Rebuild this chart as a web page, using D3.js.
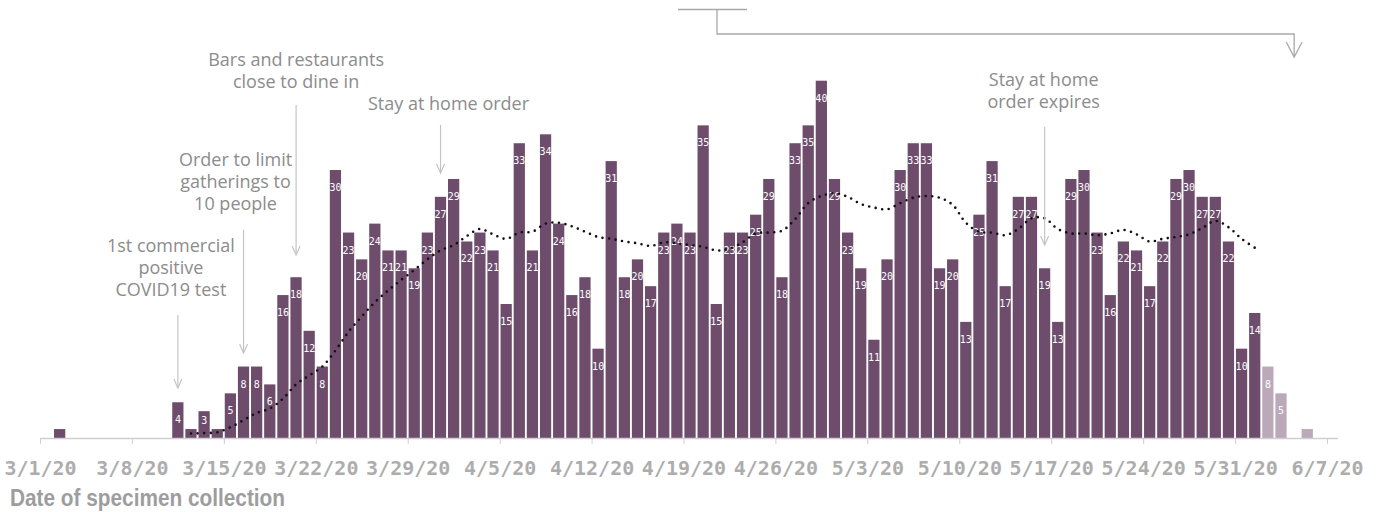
<html>
<head>
<meta charset="utf-8">
<script src="https://d3js.org/d3.v7.min.js"></script>
<style>
  body { margin: 0; background: #fff; }
  .note { font-family: "Open Sans", sans-serif; font-size: 18px; fill: #8c8c8c; }
  .tick text { font-family: "DejaVu Sans Mono", monospace; font-size: 20px; font-weight: bold; fill: #adadad; }
  .barlabel { font-family: "DejaVu Sans Mono", monospace; font-size: 10px; fill: #fff; }
</style>
</head>
<body>
<svg width="1385" height="512"></svg>
<script>
// daily positive specimens, by collection date (starting 3/1/20)
const marchCounts = [0, 1, 0, 0, 0, 0, 0, 0, 0, 0, 4, 1, 3, 1, 5, 8, 8, 6, 16, 18, 12, 8, 30, 23, 20, 24, 21, 21, 19, 23, 27];
const aprilCounts = [29, 22, 23, 21, 15, 33, 21, 34, 24, 16, 18, 10, 31, 18, 20, 17, 23, 24, 23, 35, 15, 23, 23, 25, 29, 18, 33, 35, 40, 29];
const mayCounts   = [23, 19, 11, 20, 30, 33, 33, 19, 20, 13, 25, 31, 17, 27, 27, 19, 13, 29, 30, 23, 16, 22, 21, 17, 22, 29, 30, 27, 27, 22, 10];
const juneCounts  = [14, 8, 5, 0, 1];
// days whose counts are still incomplete (lighter bars)
const pendingDays = ["2020-06-02", "2020-06-03", "2020-06-05"];

// rolling average (dotted line), 3/12/20 .. 6/1/20
const avgStart = "2020-03-12";
const avgMarch = [0.5, 0.55, 0.65, 1.2, 2.0, 2.8, 3.3, 4.4, 6.0, 7.0, 8.0, 9.8, 11.9, 13.6, 15.2, 16.5, 17.7, 18.8, 20.0, 21.0];
const avgApril = [21.6, 22.6, 23.4, 22.8, 22.3, 23.0, 23.1, 24.0, 24.1, 23.7, 23.1, 22.5, 22.3, 22.0, 21.8, 21.5, 21.9, 21.8, 21.6, 21.4,
                  21.0, 21.2, 21.9, 22.9, 23.0, 23.2, 24.5, 26.3, 27.1, 27.4];
const avgMay   = [27.0, 26.2, 25.8, 25.6, 26.3, 26.9, 27.1, 26.9, 26.1, 24.1, 23.1, 23.0, 22.7, 23.4, 24.6, 24.6, 23.4, 22.9, 22.9, 22.7,
                  22.9, 23.3, 22.8, 22.0, 22.3, 22.5, 22.8, 23.5, 24.3, 23.6, 22.3];
const avgJune  = [21.3];

const tickLabels = ["3/1/20", "3/8/20", "3/15/20", "3/22/20", "3/29/20", "4/5/20", "4/12/20", "4/19/20",
                    "4/26/20", "5/3/20", "5/10/20", "5/17/20", "5/24/20", "5/31/20", "6/7/20"];

const notes = [
  { date: "2020-03-11", lines: ["1st commercial", "positive", "COVID19 test"] },
  { date: "2020-03-16", lines: ["Order to limit", "gatherings to", "10 people"] },
  { date: "2020-03-20", lines: ["Bars and restaurants", "close to dine in"] },
  { date: "2020-03-31", lines: ["Stay at home order"] },
  { date: "2020-05-16", lines: ["Stay at home", "order expires"] }
];
// placement of each note: text offset, first line y, arrow top/bottom
const notePlacement = [
  { dx: -7, y: 246, a0: 315, a1: 388 },
  { dx: -8, y: 160, a0: 230, a1: 353 },
  { dx: 0,  y: 60,  a0: 105, a1: 255 },
  { dx: 8,  y: 104, a0: 125, a1: 173 },
  { dx: -1, y: 80,  a0: 127, a1: 245 }
];

const parse = d3.timeParse("%Y-%m-%d");
const start = parse("2020-03-01");
const counts = marchCounts.concat(aprilCounts, mayCounts, juneCounts);
const bars = counts.map((v, i) => ({ date: d3.timeDay.offset(start, i), value: v }));
const pendingSet = new Set(pendingDays);
const fmtKey = d3.timeFormat("%Y-%m-%d");

const avgValues = avgMarch.concat(avgApril, avgMay, avgJune);
const avg = avgValues.map((v, i) => ({ date: d3.timeDay.offset(parse(avgStart), i), value: v }));

const svg = d3.select("svg");

const x = d3.scaleTime()
  .domain([parse("2020-03-01"), parse("2020-06-07")])
  .range([40, 1327]);
const day = x(d3.timeDay.offset(start, 1)) - x(start);
const y = d3.scaleLinear().domain([0, 40]).range([438, 80.7]);

// bars
svg.append("g")
  .selectAll("rect")
  .data(bars.filter(d => d.value > 0))
  .enter()
  .append("rect")
    .attr("x", d => x(d.date) + 0.9)
    .attr("y", d => y(d.value))
    .attr("width", day - 1.9)
    .attr("height", d => y(0) - y(d.value))
    .style("fill", d => pendingSet.has(fmtKey(d.date)) ? "#bba9ba" : "#6e4c6c");

// labels in bars
svg.append("g")
  .selectAll("text")
  .data(bars.filter(d => d.value > 1))
  .enter()
  .append("text")
    .attr("class", "barlabel")
    .attr("x", d => x(d.date) + day / 2)
    .attr("y", d => Math.min(y(d.value) + 17.5, y(0) - 18))
    .attr("dy", "0.35em")
    .attr("text-anchor", "middle")
    .text(d => d.value);

// x axis
const tickDates = tickLabels.map(d3.timeParse("%-m/%-d/%y"));
const axis = svg.append("g")
  .attr("transform", "translate(0," + y(0) + ")")
  .call(d3.axisBottom(x).tickValues(tickDates).tickFormat((d, i) => tickLabels[i]).tickSize(6).tickSizeOuter(0));
axis.select(".domain").remove();
axis.selectAll(".tick line").attr("stroke", "#cfcfcf");
axis.selectAll(".tick text").attr("dy", 0).attr("y", 37);
axis.append("line")
  .attr("x1", x.range()[0]).attr("x2", x.range()[1] + 11)
  .attr("y1", 0.5).attr("y2", 0.5)
  .attr("stroke", "#cfcfcf").attr("stroke-width", 1.5);

// axis title, squeezed like the condensed face of the original
svg.append("text")
  .attr("x", 10).attr("y", 506)
  .attr("textLength", 275)
  .attr("lengthAdjust", "spacingAndGlyphs")
  .style("font-family", "'Liberation Sans', sans-serif")
  .style("font-weight", "bold")
  .style("font-size", "23px")
  .style("fill", "#9d9d9d")
  .text("Date of specimen collection");

// rolling average
const line = d3.line()
  .x(d => x(d.date) + day / 2)
  .y(d => y(d.value))
  .curve(d3.curveCatmullRom);
svg.append("path")
  .datum(avg)
  .attr("d", line)
  .attr("fill", "none")
  .attr("stroke", "#111")
  .attr("stroke-width", 2.6)
  .attr("stroke-linecap", "round")
  .attr("stroke-dasharray", "0 6.6");

// annotations
const noteG = svg.append("g");
notes.forEach((n, i) => {
  const p = notePlacement[i];
  const ax = x(parse(n.date)) + day / 2;
  const t = noteG.append("text").attr("class", "note").attr("text-anchor", "middle");
  n.lines.forEach((l, j) => {
    t.append("tspan").attr("x", ax + p.dx).attr("y", p.y + j * 22).attr("dy", "0.35em").text(l);
  });
  noteG.append("line")
    .attr("x1", ax).attr("x2", ax).attr("y1", p.a0).attr("y2", p.a1)
    .attr("stroke", "#c4c4c4").attr("stroke-width", 1.2);
  noteG.append("path")
    .attr("d", d3.line()([[ax - 4, p.a1 - 9], [ax, p.a1], [ax + 4, p.a1 - 9]]))
    .attr("fill", "none").attr("stroke", "#c4c4c4").attr("stroke-width", 1.2);
});

// bracket from the title down to the latest days
const bracket = svg.append("g").attr("fill", "none").attr("stroke", "#a9a9a9").attr("stroke-width", 1.3);
const bx = x(parse("2020-06-04")) + day / 2;
bracket.append("path").attr("d", d3.line()([[678, 9.5], [747, 9.5]]));
bracket.append("path").attr("d", d3.line()([[717, 9.5], [717, 34], [bx, 34], [bx, 56]]));
bracket.append("path").attr("d", d3.line()([[bx - 8, 42], [bx, 57], [bx + 8, 42]]));
</script>
</body>
</html>
